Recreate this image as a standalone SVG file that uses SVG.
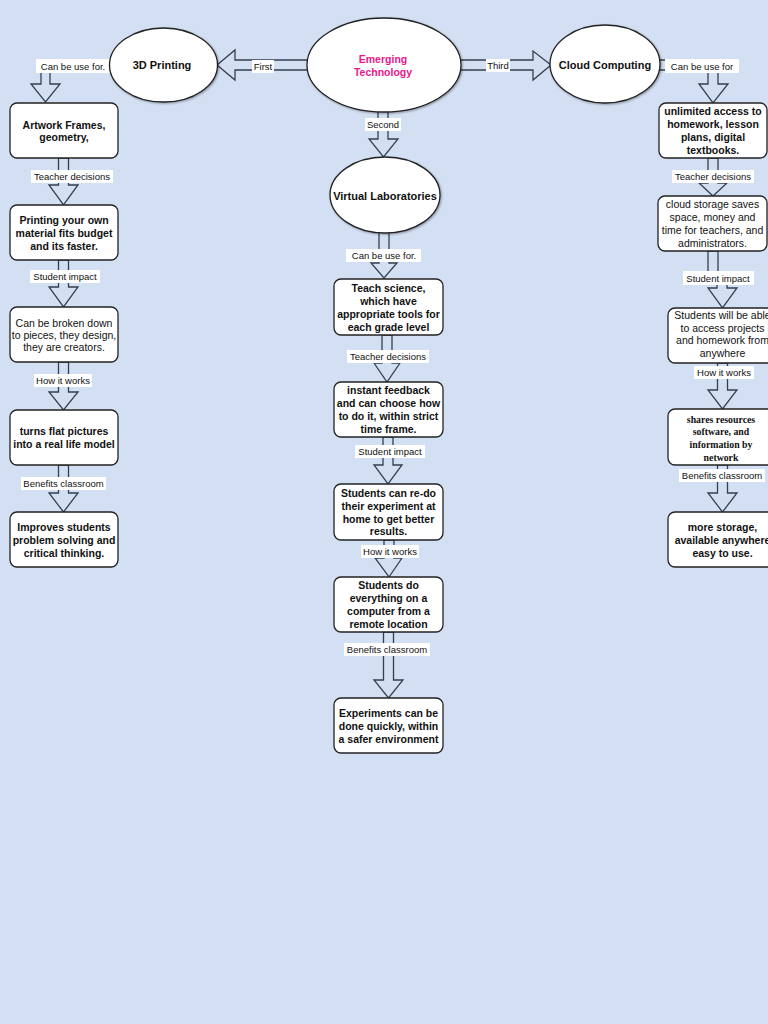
<svg xmlns="http://www.w3.org/2000/svg" width="768" height="1024" viewBox="0 0 768 1024">
<defs>
<style>
.bg{fill:#d3dff3}
.node{fill:#ffffff;stroke:#222;stroke-width:1.3}
.arr{fill:#d3dff3;stroke:#35404e;stroke-width:1.3;stroke-linejoin:miter}
.lblbg{fill:#ffffff}
.lbl{font-family:"Liberation Sans",Arial,sans-serif;font-size:9.5px;fill:#111;text-anchor:middle;dominant-baseline:central}
.tb{font-family:"Liberation Sans",Arial,sans-serif;font-size:10.5px;font-weight:bold;fill:#111;text-anchor:middle;dominant-baseline:central}
.te{font-family:"Liberation Sans",Arial,sans-serif;font-size:11px;font-weight:bold;fill:#111;text-anchor:middle;dominant-baseline:central}
.tr{font-family:"Liberation Sans",Arial,sans-serif;font-size:10.5px;fill:#111;text-anchor:middle;dominant-baseline:central}
.ts{font-family:"Liberation Serif","Times New Roman",serif;font-size:9.8px;font-weight:bold;fill:#111;text-anchor:middle;dominant-baseline:central}
.pink{fill:#e8188c}
</style>
<filter id="sh" x="-10%" y="-10%" width="130%" height="130%">
<feDropShadow dx="1" dy="1" stdDeviation="0.8" flood-color="#000" flood-opacity="0.35"/>
</filter>
</defs>
<rect class="bg" x="0" y="0" width="768" height="1024"/>

<g id="connectors">
<!-- First -->
<polygon class="arr" points="310,60 235,60 235,50 217,65 235,80 235,70 310,70"/>
<!-- Third -->
<polygon class="arr" points="458,60 533,60 533,51 551,65 533,80 533,70 458,70"/>
<!-- Second -->
<polygon class="arr" points="378,108 388,108 388,139 398,139 383.5,157 369,139 378,139"/>
<!-- left top elbow -->
<polygon class="arr" points="112,60 41,60 41,84 31,84 45.5,102 60,84 50,84 50,70 112,70"/>
<!-- right top elbow -->
<polygon class="arr" points="656,60 718,60 718,84 728,84 713,103 699,84 708,84 708,70 656,70"/>
<!-- left column -->
<polygon class="arr" points="58.5,158 68.5,158 68.5,185 78,185 63.5,205 49,185 58.5,185"/>
<polygon class="arr" points="58.5,260 68.5,260 68.5,287 78,287 63.5,307 49,287 58.5,287"/>
<polygon class="arr" points="58.5,362 68.5,362 68.5,392 78,392 63.5,410 49,392 58.5,392"/>
<polygon class="arr" points="58.5,465 68.5,465 68.5,493 78,493 63.5,512 49,493 58.5,493"/>
<!-- center column -->
<polygon class="arr" points="379,231 389,231 389,263 397,263 384,278 371,263 379,263"/>
<polygon class="arr" points="382,335 392,335 392,363 400,363 387,382 374,363 382,363"/>
<polygon class="arr" points="383,437 393,437 393,465 402,465 388,484 374,465 383,465"/>
<polygon class="arr" points="384,540 394,540 394,558 402,558 389,577 375,558 384,558"/>
<polygon class="arr" points="383.5,632 393.5,632 393.5,680 403,680 388.5,698 374,680 383.5,680"/>
<!-- right column -->
<polygon class="arr" points="708,158 718,158 718,183 727,183 713,196 699,183 708,183"/>
<polygon class="arr" points="708,251 718,251 718,280 727,280 727,288 737,288 722.5,308 708,288 717,288 717,276 708,276"/>
<polygon class="arr" points="717.5,363 727.5,363 727.5,390 737,390 722.5,409 708,390 717.5,390"/>
<polygon class="arr" points="717.5,465 727.5,465 727.5,493 737,493 722.5,512 708,493 717.5,493"/>

<!-- labels -->
<rect class="lblbg" x="252" y="60" width="22" height="13"/><text class="lbl" x="263" y="66.5">First</text>
<rect class="lblbg" x="486" y="59" width="24" height="13"/><text class="lbl" x="498" y="65.5">Third</text>
<rect class="lblbg" x="365" y="118" width="36" height="13"/><text class="lbl" x="383" y="124.5">Second</text>
<rect class="lblbg" x="36" y="59" width="75" height="14"/><text class="lbl" x="73" y="66">Can be use for.</text>
<rect class="lblbg" x="665" y="59" width="74" height="14"/><text class="lbl" x="702" y="66">Can be use for</text>

<rect class="lblbg" x="31" y="170" width="82" height="13"/><text class="lbl" x="72" y="176.5">Teacher decisions</text>
<rect class="lblbg" x="30" y="270" width="70" height="13"/><text class="lbl" x="65" y="276">Student impact</text>
<rect class="lblbg" x="34" y="374" width="58" height="13"/><text class="lbl" x="63" y="380.5">How it works</text>
<rect class="lblbg" x="21" y="477" width="85" height="13"/><text class="lbl" x="63.5" y="483.5">Benefits classroom</text>

<rect class="lblbg" x="346" y="249" width="75" height="13"/><text class="lbl" x="384" y="255.5">Can be use for.</text>
<rect class="lblbg" x="347" y="350" width="82" height="13"/><text class="lbl" x="388" y="356.5">Teacher decisions</text>
<rect class="lblbg" x="355" y="445" width="70" height="13"/><text class="lbl" x="390" y="451.5">Student impact</text>
<rect class="lblbg" x="361" y="545" width="58" height="13"/><text class="lbl" x="390" y="551.5">How it works</text>
<rect class="lblbg" x="344" y="643" width="86" height="13"/><text class="lbl" x="387" y="649.5">Benefits classroom</text>

<rect class="lblbg" x="672" y="170" width="82" height="13"/><text class="lbl" x="713" y="176.5">Teacher decisions</text>
<rect class="lblbg" x="683" y="271" width="71" height="14"/><text class="lbl" x="718" y="278">Student impact</text>
<rect class="lblbg" x="694" y="366" width="60" height="13"/><text class="lbl" x="724" y="372.5">How it works</text>
<rect class="lblbg" x="679" y="469" width="86" height="13"/><text class="lbl" x="722" y="475.5">Benefits classroom</text>
</g>

<g id="n-emerging" filter="url(#sh)"><ellipse class="node" cx="384" cy="65" rx="77" ry="47"/></g>
<g id="n-emerging-text"><text class="tb pink" x="383" y="59">Emerging</text><text class="tb pink" x="383" y="72">Technology</text></g>

<g id="n-3dprinting"><ellipse class="node" cx="163.5" cy="65" rx="54" ry="37" filter="url(#sh)"/><text class="te" x="162" y="65">3D Printing</text></g>
<g id="n-cloud"><ellipse class="node" cx="605" cy="64" rx="55" ry="39" filter="url(#sh)"/><text class="te" x="605" y="65">Cloud Computing</text></g>
<g id="n-virtual"><ellipse class="node" cx="385" cy="195" rx="55" ry="38" filter="url(#sh)"/><text class="te" x="385" y="195.5">Virtual Laboratories</text></g>

<!-- left column -->
<g id="n-artwork"><rect class="node" x="10" y="103" width="108" height="55" rx="7"/><text class="tb" x="64" y="125">Artwork Frames,</text><text class="tb" x="64" y="137">geometry,</text></g>
<g id="n-printing"><rect class="node" x="10" y="205" width="108" height="55" rx="7"/><text class="tb" x="64" y="220">Printing your own</text><text class="tb" x="64" y="233">material fits budget</text><text class="tb" x="64" y="246">and its faster.</text></g>
<g id="n-broken"><rect class="node" x="10" y="307" width="108" height="55" rx="7"/><text class="tr" x="64" y="323">Can be broken down</text><text class="tr" x="64" y="335">to pieces, they design,</text><text class="tr" x="64" y="347">they are creators.</text></g>
<g id="n-turns"><rect class="node" x="10" y="410" width="108" height="55" rx="7"/><text class="tb" x="64" y="431">turns flat pictures</text><text class="tb" x="64" y="444">into a real life model</text></g>
<g id="n-improves"><rect class="node" x="10" y="512" width="108" height="55" rx="7"/><text class="tb" x="64" y="527">Improves students</text><text class="tb" x="64" y="540">problem solving and</text><text class="tb" x="64" y="553">critical thinking.</text></g>

<!-- center column -->
<g id="n-teach"><rect class="node" x="334" y="279" width="109" height="56" rx="7"/><text class="tb" x="388.5" y="288">Teach science,</text><text class="tb" x="388.5" y="300.5">which have</text><text class="tb" x="388.5" y="313.5">appropriate tools for</text><text class="tb" x="388.5" y="326.5">each grade level</text></g>
<g id="n-instant"><rect class="node" x="334" y="382" width="109" height="55" rx="7"/><text class="tb" x="388.5" y="390">instant feedback</text><text class="tb" x="388.5" y="403">and can choose how</text><text class="tb" x="388.5" y="416">to do it, within strict</text><text class="tb" x="388.5" y="428.5">time frame.</text></g>
<g id="n-redo"><rect class="node" x="334" y="484" width="109" height="56" rx="7"/><text class="tb" x="388.5" y="493">Students can re-do</text><text class="tb" x="388.5" y="506">their experiment at</text><text class="tb" x="388.5" y="518.5">home to get better</text><text class="tb" x="388.5" y="531">results.</text></g>
<g id="n-everything"><rect class="node" x="334" y="577" width="109" height="55" rx="7"/><text class="tb" x="388.5" y="585">Students do</text><text class="tb" x="388.5" y="598">everything on a</text><text class="tb" x="388.5" y="611">computer from a</text><text class="tb" x="388.5" y="623.5">remote location</text></g>
<g id="n-experiments"><rect class="node" x="334" y="698" width="109" height="55" rx="7"/><text class="tb" x="388.5" y="713">Experiments can be</text><text class="tb" x="388.5" y="726">done quickly, within</text><text class="tb" x="388.5" y="739">a safer environment</text></g>

<!-- right column -->
<g id="n-unlimited"><rect class="node" x="659" y="103" width="108" height="55" rx="7"/><text class="tb" x="713" y="111">unlimited access to</text><text class="tb" x="713" y="124">homework, lesson</text><text class="tb" x="713" y="137">plans, digital</text><text class="tb" x="713" y="150">textbooks.</text></g>
<g id="n-storage"><rect class="node" x="658" y="196" width="109" height="55" rx="7"/><text class="tr" x="712.5" y="204">cloud storage saves</text><text class="tr" x="712.5" y="217">space, money and</text><text class="tr" x="712.5" y="230">time for teachers, and</text><text class="tr" x="712.5" y="243">administrators.</text></g>
<g id="n-access"><rect class="node" x="668" y="308" width="109" height="55" rx="7"/><text class="tr" x="722.5" y="315">Students will be able</text><text class="tr" x="722.5" y="327.5">to access projects</text><text class="tr" x="722.5" y="340">and homework from</text><text class="tr" x="722.5" y="353">anywhere</text></g>
<g id="n-shares"><rect class="node" x="668" y="409" width="109" height="56" rx="7"/><text class="ts" x="721" y="419">shares resources</text><text class="ts" x="721" y="431.5">software, and</text><text class="ts" x="721" y="444.5">information by</text><text class="ts" x="721" y="457">network</text></g>
<g id="n-more"><rect class="node" x="668" y="512" width="109" height="55" rx="7"/><text class="tb" x="722.5" y="527">more storage,</text><text class="tb" x="722.5" y="540">available anywhere</text><text class="tb" x="722.5" y="553">easy to use.</text></g>
</svg>
